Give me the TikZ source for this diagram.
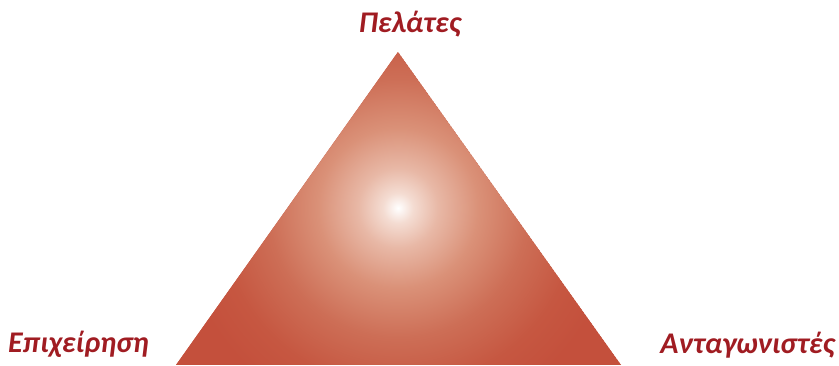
\documentclass[tikz,border=0pt]{standalone}
\usepackage{fontspec}
\setmainfont{Carlito}
\definecolor{tri}{HTML}{C4503C}
\definecolor{lbl}{HTML}{A01C22}
\definecolor{g1}{HTML}{F4DCD2}
\definecolor{g2}{HTML}{E8B8A6}
\definecolor{g3}{HTML}{DA9178}
\definecolor{g4}{HTML}{CD6E56}
\definecolor{g5}{HTML}{C65741}
\pgfdeclareradialshading{glow}{\pgfpoint{0bp}{0bp}}{color(0bp)=(white); color(1.25bp)=(g1); color(3.33bp)=(g2); color(6.67bp)=(g3); color(10.8bp)=(g4); color(15bp)=(g5); color(18.3bp)=(tri); color(50bp)=(tri)}
\tikzset{lab/.style={text=lbl, font=\fontsize{30}{36}\selectfont\bfseries\itshape, inner sep=0pt}}
\begin{document}
\begin{tikzpicture}[x=1pt,y=-1pt]
\useasboundingbox (0,0) rectangle (839,366);
\coordinate (apex) at (398,52);
\coordinate (bl) at (176,365);
\coordinate (br) at (621,365);
\coordinate (c) at (398,208);
\begin{scope}
\clip (apex) -- (br) -- (bl) -- cycle;
\fill[tri] (apex) -- (br) -- (bl) -- cycle;
\shade[shading=glow] (c) circle (300);
\end{scope}
\node[lab, anchor=base] (top) at (410,33) {Πελάτες};
\node[lab, anchor=base west] (left) at (8,353) {Επιχείρηση};
\node[lab, anchor=base east] (right) at (835,354) {Ανταγωνιστές};
\end{tikzpicture}
\end{document}
